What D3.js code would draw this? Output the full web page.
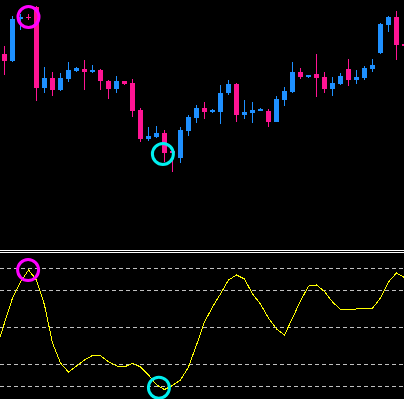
<!DOCTYPE html>
<html>
<head>
<meta charset="utf-8">
<script src="https://cdn.jsdelivr.net/npm/d3@7"></script>
<style>
  html, body { margin: 0; padding: 0; background: #000; overflow: hidden; }
  svg { display: block; }
</style>
</head>
<body>
<svg id="viz" width="404" height="399"></svg>
<script>
// candles, values (arbitrary price units)
var open  = [146,139,181,183,193,112,122,110,121,129,131,128,130,119,111,119,117,90,61,63,67,49,42,69,82,92,88,88,107,116,85,87,89,89,78,100,108,128,123,126,123,111,116,131,120,122,131,147,175,183,156];
var high  = [154,184,186,186,194,133,128,127,138,133,140,135,131,120,124,119,121,92,73,74,70,50,73,85,95,98,91,115,120,117,100,98,92,91,104,113,138,132,125,146,128,123,127,141,130,134,141,177,184,189,156];
var low   = [125,138,170,180,99,107,104,109,118,128,110,127,110,101,107,115,83,58,59,62,38,28,37,64,77,81,87,76,105,78,81,77,89,73,78,94,107,121,122,103,107,104,115,114,116,120,128,146,168,140,154];
var close = [139,181,183,182.5,112,122,110,122,130,132,128,130,119,111,119,116,89,61,64,67,47,47,70,83,92,88,90,107,116,85,88,90,91,78,101,109,128,123,125,122,111,117,124,120,123,132,135,176,183,155,154];

// oscillator, first value belongs to the bar before the first candle
var osc = [33,53.2,73.5,86.5,96.2,88.1,67.8,37,20.8,13.5,18.4,23.2,26.9,26.7,21.9,18.4,17.6,20.6,17.6,11.1,3.1,-0.7,2.6,7,17.6,35.4,54.1,66.2,76.8,88.1,92.2,88.9,76.8,68.6,57.3,48.4,43.5,57.3,71.1,83.2,84.1,78.8,70.3,64.2,63.8,64.6,65.2,65.2,73.5,86.5,93.8,90.1];
var levels = [98, 80, 50, 20, 2];

// marked turning points: position on price panel and on oscillator panel
var marks = [
  {bar: 3, price: 183, oscBar: 2.95, osc: 96.2, color: "#ff00ff"},
  {bar: 19.8, price: 46, oscBar: 19.3, osc: 0.8, color: "#00f0f0"}
];

var svg = d3.select("#viz");
var W = 404;

var x = d3.scaleLinear().domain([0, 50]).range([4.5, 404.5]);
var y = d3.scaleLinear().domain([0, 200]).range([200, 0]);
var yo = d3.scaleLinear().domain([0, 100]).range([388.67, 265.33]);

svg.append("rect").attr("width", W).attr("height", 399).attr("fill", "#000");

var bars = d3.range(open.length);
function barColor(i) { return close[i] >= open[i] ? "#1e90ff" : "#ff1493"; }

// wicks
svg.selectAll("rect.wick")
  .data(bars)
  .enter()
  .append("rect")
  .classed("wick", true)
  .attr("x", function(i) { return x(i) - 0.5; })
  .attr("y", function(i) { return y(high[i]); })
  .attr("width", 1)
  .attr("height", function(i) { return Math.max(1, y(low[i]) - y(high[i])); })
  .attr("fill", barColor)
  .attr("shape-rendering", "crispEdges");

// bodies
svg.selectAll("rect.body")
  .data(bars)
  .enter()
  .append("rect")
  .classed("body", true)
  .attr("x", function(i) { return x(i) - 2.5; })
  .attr("y", function(i) { return y(Math.max(open[i], close[i])); })
  .attr("width", 5)
  .attr("height", function(i) { return Math.max(1, Math.abs(y(open[i]) - y(close[i]))); })
  .attr("fill", barColor)
  .attr("shape-rendering", "crispEdges");

// panel separator
svg.selectAll("line.sep")
  .data([250.5, 252.5])
  .enter()
  .append("line")
  .attr("x1", 0).attr("x2", W)
  .attr("y1", function(d) { return d; })
  .attr("y2", function(d) { return d; })
  .style("stroke", "#fff")
  .attr("shape-rendering", "crispEdges");

// level lines
svg.selectAll("line.level")
  .data(levels)
  .enter()
  .append("line")
  .attr("x1", 0).attr("x2", W)
  .attr("y1", function(d) { return Math.round(yo(d)) + 0.5; })
  .attr("y2", function(d) { return Math.round(yo(d)) + 0.5; })
  .style("stroke", "#c0c0c0")
  .style("stroke-dasharray", "4,3")
  .attr("shape-rendering", "crispEdges");

// oscillator line
var line = d3.line()
  .x(function(d, i) { return x(i - 1); })
  .y(function(d) { return yo(d); });

svg.append("path")
  .datum(osc)
  .attr("d", line)
  .style("fill", "none")
  .style("stroke", "#ffff00")
  .style("stroke-width", 1)
  .attr("shape-rendering", "crispEdges");

// circles on price and oscillator
marks.forEach(function(m) {
  svg.append("circle")
    .attr("cx", x(m.bar)).attr("cy", y(m.price)).attr("r", 10.5)
    .style("fill", "none").style("stroke", m.color).style("stroke-width", 3);
  svg.append("circle")
    .attr("cx", x(m.oscBar)).attr("cy", yo(m.osc)).attr("r", 10.5)
    .style("fill", "none").style("stroke", m.color).style("stroke-width", 3);
});
</script>
</body>
</html>
